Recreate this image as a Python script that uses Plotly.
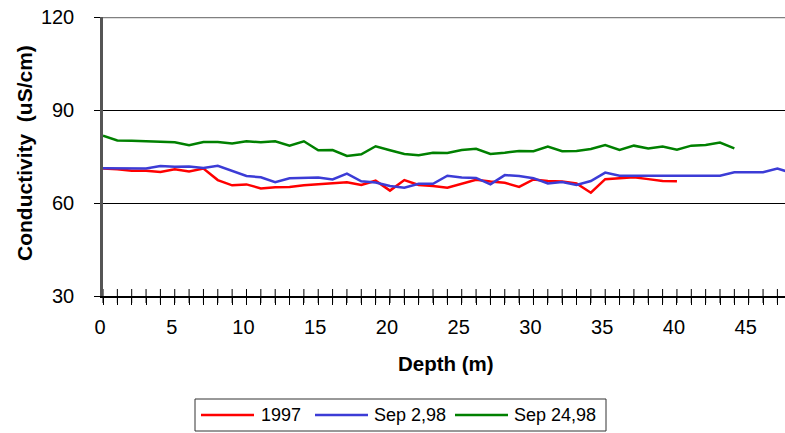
import plotly.graph_objects as go

# Conductivity profiles against depth (one reading per metre)
depth_1997 = list(range(0, 41))
cond_1997 = [71.1, 70.9, 70.4, 70.4, 70.0, 70.9, 70.2, 71.1, 67.4, 65.7,
             66.0, 64.7, 65.1, 65.2, 65.7, 66.0, 66.5, 66.7, 65.8, 67.2,
             64.0, 67.4, 65.8, 65.5, 64.9, 66.3, 67.5, 66.9, 66.5, 65.2,
             67.6, 67.1, 66.9, 66.3, 63.3, 67.7, 68.1, 68.3, 67.7, 67.1,
             67.0]

depth_sep2 = list(range(0, 49))
cond_sep2 = [71.2, 71.2, 71.0, 71.1, 71.9, 71.7, 71.8, 71.3, 72.0, 70.3,
             68.7, 68.3, 66.7, 68.0, 68.1, 68.2, 67.6, 69.5, 67.0, 66.6,
             65.5, 64.9, 66.2, 66.2, 68.8, 68.2, 68.1, 66.0, 69.0, 68.7,
             68.0, 66.3, 66.8, 65.8, 67.1, 69.8, 68.8, 68.8, 68.8, 68.8,
             68.8, 68.8, 68.8, 68.8, 69.9, 69.9, 69.9, 71.1, 69.7]

depth_sep24 = list(range(0, 45))
cond_sep24 = [81.7, 80.2, 80.1, 80.0, 79.8, 79.6, 78.6, 79.7, 79.7, 79.2,
              79.9, 79.6, 79.9, 78.5, 79.9, 77.0, 77.1, 75.2, 75.7, 78.3,
              77.0, 75.8, 75.4, 76.2, 76.1, 77.1, 77.5, 75.8, 76.2, 76.8,
              76.7, 78.2, 76.7, 76.8, 77.4, 78.7, 77.1, 78.5, 77.6, 78.2,
              77.2, 78.5, 78.7, 79.5, 77.6]

series_names = ["1997", "Sep 2,98", "Sep 24,98"]
series_colors = ["#FF0000", "#3C3CD6", "#008000"]

x_tick_vals = list(range(0, 48))
x_tick_text = [str(v) if v % 5 == 0 else "" for v in x_tick_vals]
y_tick_vals = [30, 60, 90, 120]

# Figure geometry (pixels)
W, H = 785, 433
L, R, T, B = 103, 0, 17, 137
PW, PH = W - L - R, H - T - B


def px_x(px):
    return (px - L) / PW


def px_y(py):
    return (H - B - py) / PH


FONT = "Arial, Liberation Sans, sans-serif"

fig = go.Figure()

for xs, ys, name, color in zip(
    [depth_1997, depth_sep2, depth_sep24],
    [cond_1997, cond_sep2, cond_sep24],
    series_names, series_colors,
):
    fig.add_trace(go.Scatter(x=xs, y=ys, mode="lines", name=name,
                             line=dict(color=color, width=2.5),
                             hoverinfo="skip"))

# upper half of the crossing tick marks on the depth axis
fig.add_trace(go.Scatter(
    x=x_tick_vals, y=[30] * len(x_tick_vals), mode="markers",
    marker=dict(symbol="line-ns", size=10, line=dict(color="black", width=1)),
    cliponaxis=False, hoverinfo="skip", showlegend=False))

shapes = [
    # plot-area border along the top
    dict(type="line", xref="paper", yref="y", x0=0, x1=1, y0=120, y1=120,
         line=dict(color="#808080", width=2.5)),
    # legend frame
    dict(type="rect", xref="paper", yref="paper",
         x0=px_x(195), x1=px_x(606), y0=px_y(399), y1=px_y(431),
         line=dict(color="#333333", width=1), fillcolor="white"),
]

annotations = [
    dict(text="<b>Conductivity \u00a0(uS/cm)</b>", textangle=-90,
         xref="paper", yref="paper", x=px_x(24), y=px_y(153),
         xanchor="center", yanchor="middle", showarrow=False,
         font=dict(family=FONT, size=21, color="black")),
    dict(text="<b>Depth (m)</b>", xref="paper", yref="paper",
         x=px_x(446), y=px_y(363), xanchor="center", yanchor="middle",
         showarrow=False, font=dict(family=FONT, size=20.5, color="black")),
]

# legend entries: sample line followed by its label
legend_items = [(201, 254, 259), (315, 368, 372), (455, 508, 512)]
for (s0, s1, tx), name, color in zip(legend_items, series_names, series_colors):
    shapes.append(dict(type="line", xref="paper", yref="paper",
                       x0=px_x(s0), x1=px_x(s1), y0=px_y(415), y1=px_y(415),
                       line=dict(color=color, width=2.5)))
    annotations.append(dict(text=name, xref="paper", yref="paper",
                            x=px_x(tx), y=px_y(415), xanchor="left",
                            yanchor="middle", showarrow=False,
                            font=dict(family=FONT, size=18, color="black")))

fig.update_layout(
    width=W, height=H,
    margin=dict(l=L, r=R, t=T, b=B),
    plot_bgcolor="white", paper_bgcolor="white",
    showlegend=False,
    font=dict(family=FONT, size=20, color="black"),
    shapes=shapes, annotations=annotations,
    xaxis=dict(range=[0, 47.53], tickvals=x_tick_vals, ticktext=x_tick_text,
               ticks="outside", ticklen=7, tickwidth=1, tickcolor="black",
               showline=True, linecolor="black", linewidth=1.5,
               showgrid=False, zeroline=False, ticklabelshift=-3,
               ticklabelstandoff=5,
               tickfont=dict(family=FONT, size=20, color="black")),
    yaxis=dict(range=[30, 120], tickvals=y_tick_vals,
               ticks="outside", ticklen=6, tickwidth=1, tickcolor="black",
               showline=True, linecolor="#555555", linewidth=2.5,
               showgrid=True, gridcolor="black", gridwidth=1,
               zeroline=False, ticklabelstandoff=16,
               tickfont=dict(family=FONT, size=20, color="black")),
)

fig.write_html("out.html")
